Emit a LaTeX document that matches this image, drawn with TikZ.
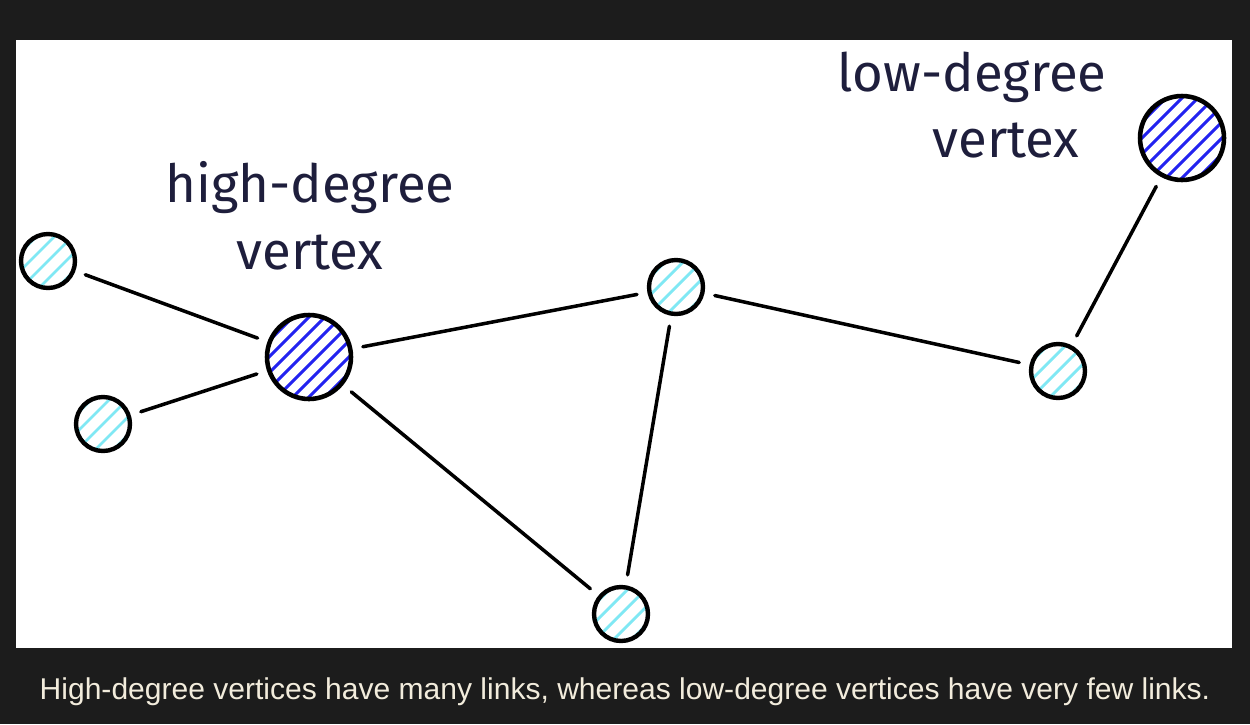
\documentclass[tikz,border=0pt]{standalone}
\usepackage{fontspec}
\setmainfont{Liberation Sans}
\newfontfamily\handfont{Fira Sans}
\definecolor{bgdark}{HTML}{1C1C1C}
\definecolor{captioncol}{HTML}{F2ECDC}
\definecolor{inkcol}{HTML}{1E1E3C}
\definecolor{lightcyan}{HTML}{80E8F4}
\definecolor{deepblue}{HTML}{2222F0}
\begin{document}
\begin{tikzpicture}[x=0.02cm,y=-0.02cm,
  vertex/.style={circle,draw=black,line width=2.5pt,inner sep=0pt,minimum size=1.08cm,
    path picture={\foreach \k in {-90,-72,...,90}
      \draw[lightcyan,line width=1.6pt,shift={(path picture bounding box.center)}] (\k-50,50) -- (\k+50,-50);}},
  hub/.style={circle,draw=black,line width=2.6pt,inner sep=0pt,minimum size=1.68cm,
    path picture={\foreach \k in {-120,-104,...,120}
      \draw[deepblue,line width=1.7pt,shift={(path picture bounding box.center)}] (\k-60,60) -- (\k+60,-60);}},
  link/.style={line width=2pt,line cap=round,shorten <=6pt,shorten >=6pt},
  label/.style={font=\handfont\fontsize{30}{38}\selectfont,text=inkcol,align=center}]
\fill[bgdark] (0,0) rectangle (1250,724);
\fill[white] (16,40) rectangle (1232,648);
\useasboundingbox (0,0) rectangle (1250,724);
% vertices
\node[hub] (hd) at (309,357) {};
\node[hub] (ld) at (1182,138) {};
\node[vertex] (a) at (48,261) {};
\node[vertex] (b) at (103,424) {};
\node[vertex] (m) at (676,287) {};
\node[vertex] (r) at (1058,371) {};
\node[vertex] (d) at (621,614) {};
% links
\draw[link] (a) -- (hd);
\draw[link] (b) -- (hd);
\draw[link] (hd) -- (m);
\draw[link] (hd) -- (d);
\draw[link] (m) -- (d);
\draw[link] (m) -- (r);
\draw[link] (r) -- (ld);
% labels
\node[label] (hdtext) at (310,216) {high-degree\\vertex};
\node[label] (ldtext) at (972,105) {low-degree\\\hspace*{1.36cm}vertex};
\node[text=captioncol,font=\fontsize{17.1}{20}\selectfont] (caption) at (625,692)
  {High-degree vertices have many links, whereas low-degree vertices have very few links.};
\end{tikzpicture}
\end{document}
